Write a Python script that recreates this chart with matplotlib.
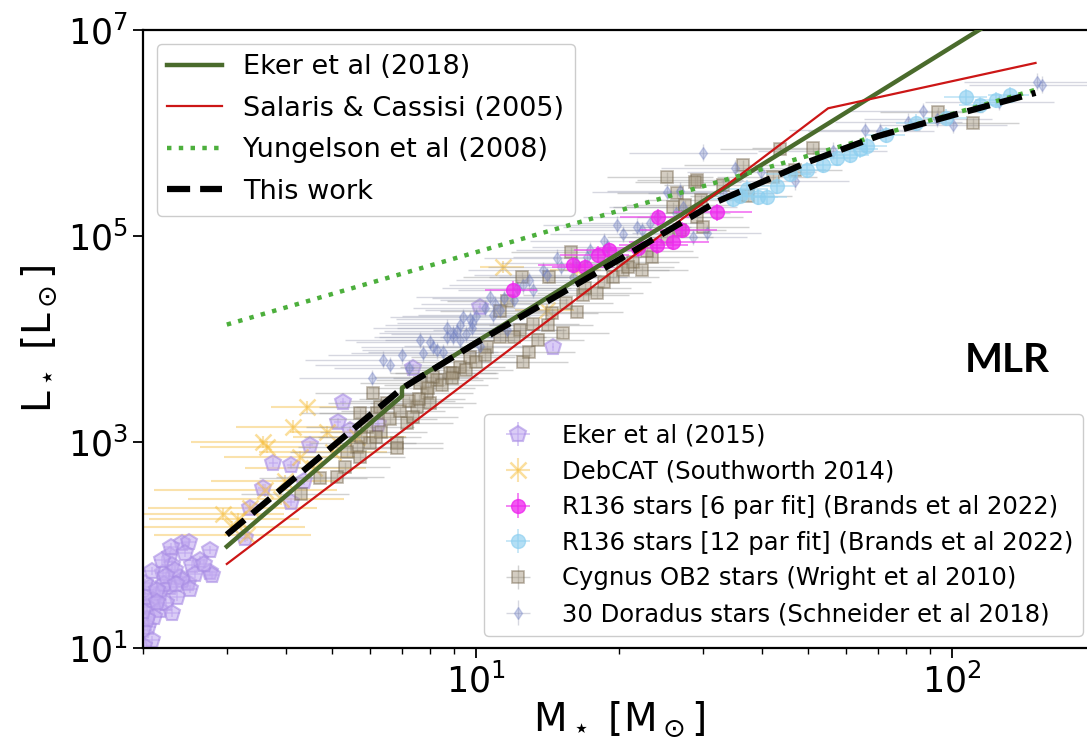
import numpy as np
import matplotlib
matplotlib.use("Agg")
import matplotlib.pyplot as plt
from matplotlib.ticker import FixedLocator, NullLocator, LogLocator, NullFormatter

# ---------------- mass-luminosity relations (M in Msun, log L in Lsun) ----------------
eker18_m = [3, 7, 7, 150]
eker18_logl = [1.986, 3.446, 3.526, 7.34]

salaris05_m = [3, 55, 150]
salaris05_logl = [1.816, 6.24, 6.68]

yungelson08_m = [3, 150]
yungelson08_logl = [4.14, 6.42]

thiswork_m = [3, 7, 10, 20, 32, 50, 70, 100, 150]
thiswork_logl = [2.10, 3.52, 3.96, 4.77, 5.33, 5.72, 5.97, 6.17, 6.39]

# ---------------- observed samples (log M, log L, mass error in Msun) ----------------
eker15_logm = [0.382, 0.398, 0.441, 0.357, 0.420, 0.403, 0.441, 0.447, 0.363, 0.342,
               0.378, 0.395, 0.357, 0.336, 0.372, 0.315, 0.321, 0.309, 0.336, 0.311,
               0.305, 0.350, 0.384, 0.363, 0.305, 0.302, 0.325, 0.345, 0.368, 0.330,
               0.310, 0.320, 0.340, 0.360, 0.390, 0.410, 0.430, 0.300, 0.330, 0.350,
               0.370, 0.400, 0.320, 0.303,
               0.613, 0.651, 0.553, 0.525, 0.515, 0.613, 0.721, 0.710, 0.794, 0.735,
               0.868, 1.008, 1.162, 0.640, 0.575]
eker15_logl = [2.02, 2.03, 1.95, 1.90, 1.85, 1.81, 1.74, 1.71, 1.81, 1.73,
               1.69, 1.63, 1.59, 1.53, 1.50, 1.59, 1.47, 1.40, 1.37, 1.20,
               1.50, 1.44, 1.66, 1.34, 1.63, 1.17, 1.30, 1.62, 1.76, 1.56,
               1.28, 1.75, 1.85, 1.98, 1.92, 1.72, 1.82, 1.36, 1.45, 1.70,
               1.62, 1.57, 1.08, 1.02,
               2.78, 2.97, 2.55, 2.36, 2.07, 2.42, 3.39, 3.19, 3.17, 3.12,
               3.72, 4.31, 3.92, 2.62, 2.80]
eker15_dm = 0.08
eker15_dlogl = 0.04

debcat_logm = [0.645, 0.616, 0.553, 0.561, 0.687, 0.489, 0.557, 0.525, 0.500, 0.520,
               0.660, 0.700, 1.057, 1.149, 1.212, 0.600, 0.750, 0.470, 0.590, 0.630]
debcat_logl = [3.34, 3.15, 3.00, 2.95, 3.10, 2.17, 2.53, 2.36, 2.25, 2.10,
               2.75, 2.90, 4.70, 4.28, 4.67, 2.62, 3.05, 2.30, 2.45, 2.85]
debcat_dm = [0.7, 1.0, 1.05, 1.0, 0.8, 1.3, 1.5, 1.3, 1.1, 1.2,
             1.3, 1.5, 1.2, 2.0, 2.0, 1.2, 1.5, 1.0, 1.4, 1.3]
debcat_dlogl = 0.06

r136a_logm = [1.078, 1.204, 1.229, 1.256, 1.281, 1.340, 1.382, 1.380, 1.414, 1.433, 1.506]
r136a_logl = [4.48, 4.72, 4.70, 4.82, 4.86, 4.88, 5.18, 4.91, 4.94, 5.06, 5.23]
r136a_dm = [1.5, 2.5, 2.5, 3.0, 3.0, 4.0, 4.0, 4.0, 5.0, 5.0, 6.0]
r136a_dlogl = 0.08

r136b_logm = [1.592, 1.613, 1.555, 1.570, 1.632, 1.695, 1.729, 1.758, 1.786, 1.807,
              1.821, 1.863, 1.926, 1.989, 2.031, 2.059, 2.122, 2.094, 1.660, 1.540]
r136b_logl = [5.38, 5.38, 5.39, 5.46, 5.49, 5.64, 5.69, 5.76, 5.79, 5.84,
              5.87, 5.98, 6.10, 6.15, 6.35, 6.27, 6.37, 6.32, 5.60, 5.36]
r136b_dm = [4, 4, 4, 4, 4, 5, 5, 6, 6, 6, 7, 7, 8, 10, 11, 11, 13, 12, 5, 4]
r136b_dlogl = 0.08

cyg_logm = [0.750, 0.777, 0.771, 0.792, 0.813, 0.834, 0.855, 0.876, 0.897, 0.918,
            0.945, 0.966, 0.987, 0.882, 0.785, 0.725, 0.756, 0.834, 0.708, 0.672,
            0.634, 0.756, 0.798, 0.868, 0.903, 0.910, 0.952, 1.023, 1.050, 1.092,
            1.099, 1.113, 1.130, 1.151, 1.183, 1.212, 1.225, 1.254, 1.288, 1.309,
            1.330, 1.349, 1.370, 1.401, 1.429, 1.464, 1.477, 1.422, 1.401, 1.464,
            1.414, 1.097, 1.155, 1.200, 1.065, 1.050, 1.460, 1.561, 1.639, 1.708,
            1.670, 1.624, 1.971, 2.044, 1.571, 1.473,
            0.800, 0.820, 0.840, 0.860, 0.880, 0.900, 0.930, 0.950, 0.980, 1.000,
            0.790, 0.760, 0.730, 1.020, 1.080, 1.120, 1.160, 1.190, 1.230, 1.270,
            1.320, 1.360, 1.440, 1.520]
cyg_logl = [2.95, 2.99, 3.15, 3.28, 3.38, 2.99, 3.18, 3.34, 3.48, 3.60,
            3.67, 3.73, 3.83, 3.57, 3.48, 2.76, 2.85, 2.94, 2.66, 2.65,
            2.50, 3.28, 3.34, 3.24, 3.38, 3.63, 3.67, 3.92, 4.02, 4.09,
            3.78, 3.87, 3.99, 4.14, 4.06, 4.26, 4.43, 4.45, 4.60, 4.67,
            4.75, 4.67, 4.80, 4.99, 5.06, 5.18, 5.09, 5.42, 5.57, 5.54,
            5.28, 4.60, 4.60, 4.84, 4.37, 4.27, 5.52, 5.69, 5.84, 5.85,
            5.64, 5.57, 6.20, 6.10, 5.39, 5.35,
            3.10, 3.22, 3.30, 3.40, 3.42, 3.52, 3.55, 3.62, 3.70, 3.78,
            3.05, 3.05, 2.90, 3.84, 4.02, 4.15, 4.25, 4.35, 4.50, 4.55,
            4.70, 4.85, 5.30, 5.50]
cyg_dm = [1.4, 1.5, 1.5, 1.5, 1.6, 1.7, 1.8, 1.9, 2.0, 2.1,
          2.2, 2.3, 2.4, 1.9, 1.5, 1.3, 1.4, 1.7, 1.3, 1.2,
          1.1, 1.4, 1.6, 1.8, 2.0, 2.0, 2.2, 2.6, 2.8, 3.1,
          3.1, 3.2, 3.4, 3.5, 3.8, 4.1, 4.2, 4.5, 4.9, 5.1,
          5.3, 5.6, 5.9, 6.3, 6.7, 7.3, 7.5, 6.6, 6.3, 7.3,
          6.5, 3.1, 3.6, 4.0, 2.9, 2.8, 7.2, 9.0, 11.0, 13.0,
          12.0, 10.0, 23.0, 28.0, 9.0, 7.0,
          1.6, 1.7, 1.7, 1.8, 1.9, 2.0, 2.1, 2.2, 2.4, 2.5,
          1.5, 1.4, 1.3, 2.6, 3.0, 3.3, 3.6, 3.9, 4.2, 4.7,
          5.2, 5.7, 6.9, 8.3]
cyg_dlogl = 0.05

dor_logm = [0.805, 0.820, 0.845, 0.882, 0.903, 0.939, 0.952, 0.966, 0.987, 0.993,
            0.782, 0.918, 0.931, 0.973, 0.993, 1.029, 1.050, 1.086, 1.113, 1.141,
            1.170, 1.204, 1.233, 1.275, 1.296, 1.338, 1.366, 1.401, 1.435, 1.456,
            1.485, 0.952, 1.008, 1.065, 0.966, 1.036, 1.477, 1.544, 1.519, 1.670,
            1.817, 1.939, 1.908, 2.002, 2.180, 2.189, 1.429,
            0.860, 0.890, 0.910, 0.940, 0.960, 0.980, 1.000, 1.020, 1.040, 1.060,
            1.080, 1.100, 1.120, 1.150, 1.180, 1.210, 1.240, 1.270, 1.310, 1.350,
            1.380, 1.420, 1.600, 1.750, 1.850, 1.970, 2.100]
dor_logl = [3.80, 3.75, 3.84, 3.99, 3.97, 4.11, 4.02, 4.14, 4.19, 4.16,
            3.62, 3.89, 3.87, 4.21, 4.11, 4.41, 4.28, 4.50, 4.57, 4.67,
            4.79, 4.60, 4.80, 4.89, 5.11, 5.09, 5.13, 5.43, 5.28, 4.99,
            5.03, 4.06, 3.93, 4.09, 3.99, 4.23, 5.81, 5.66, 5.42, 5.53,
            6.03, 6.21, 6.11, 6.08, 6.50, 6.47, 5.44,
            3.72, 3.86, 3.92, 4.02, 4.08, 4.05, 4.22, 4.30, 4.34, 4.40,
            4.38, 4.52, 4.48, 4.62, 4.70, 4.74, 4.86, 4.95, 5.02, 5.06,
            5.18, 5.22, 5.62, 5.83, 6.02, 6.14, 6.30]
dor_dm = [2.0, 2.0, 2.1, 2.3, 2.4, 2.6, 2.7, 2.8, 2.9, 3.0,
          1.8, 2.5, 2.6, 2.8, 3.0, 3.2, 3.4, 3.7, 3.9, 4.2,
          4.4, 4.8, 5.1, 5.7, 5.9, 6.5, 7.0, 7.6, 8.2, 8.6,
          9.2, 2.7, 3.1, 3.5, 2.8, 3.3, 9.0, 10.5, 10.0, 14.0,
          20.0, 26.0, 24.0, 30.0, 45.0, 46.0, 8.0,
          2.2, 2.3, 2.4, 2.6, 2.7, 2.9, 3.0, 3.1, 3.3, 3.4,
          3.6, 3.8, 4.0, 4.2, 4.5, 4.9, 5.2, 5.6, 6.1, 6.7,
          7.2, 7.9, 12.0, 17.0, 21.0, 28.0, 38.0]
dor_dlogl = 0.08

# ---------------- figure ----------------
W, H = 1087, 743
fig = plt.figure(figsize=(W / 100, H / 100), dpi=100)
ax = fig.add_axes([143 / W, 95 / H, 952 / W, 618 / H])
ax.set_xscale("log")
ax.set_yscale("log")


def draw_sample(logm, logl, dm, dlogl, label, fmt, color, ecolor, ms, alpha, mec=None,
                mew=1.0, elw=1.2, z=2):
    m = 10 ** np.asarray(logm)
    lum = 10 ** np.asarray(logl)
    dm = np.broadcast_to(np.asarray(dm, dtype=float), m.shape)
    xerr = np.vstack([np.minimum(dm, 0.95 * m), dm])
    yerr = np.vstack([lum * (1 - 10 ** -dlogl), lum * (10 ** dlogl - 1)])
    return ax.errorbar(m, lum, xerr=xerr, yerr=yerr, fmt=fmt, color=color, ecolor=ecolor,
                       ms=ms, mec=mec if mec else color, mew=mew, elinewidth=elw,
                       alpha=alpha, label=label, zorder=z, capsize=0)


h_eker15 = draw_sample(eker15_logm, eker15_logl, eker15_dm, eker15_dlogl, "Eker et al (2015)",
                       "p", "#c2aaf0", "#b79cec", 12, 0.6, mec="#a88ce4", mew=1.5, z=2)
h_debcat = draw_sample(debcat_logm, debcat_logl, debcat_dm, debcat_dlogl, "DebCAT (Southworth 2014)",
                       "x", "#f7be3a", "#f7c65a", 11, 0.5, mew=1.8, elw=1.5, z=2)
h_cyg = draw_sample(cyg_logm, cyg_logl, cyg_dm, cyg_dlogl, "Cygnus OB2 stars (Wright et al 2010)",
                    "s", "#a09278", "#9a9a9a", 9, 0.45, mec="#6e5f45", mew=1.2, elw=1.0, z=3)
h_dor = draw_sample(dor_logm, dor_logl, dor_dm, dor_dlogl, "30 Doradus stars (Schneider et al 2018)",
                    "d", "#6f7fc4", "#8a8fa8", 6, 0.35, mew=1.0, elw=1.0, z=3)
h_r136a = draw_sample(r136a_logm, r136a_logl, r136a_dm, r136a_dlogl,
                      "R136 stars [6 par fit] (Brands et al 2022)",
                      "o", "#ee22ee", "#ee44ee", 10, 0.75, mew=1.0, elw=1.2, z=4)
h_r136b = draw_sample(r136b_logm, r136b_logl, r136b_dm, r136b_dlogl,
                      "R136 stars [12 par fit] (Brands et al 2022)",
                      "o", "#8ccff0", "#9fd6f2", 10, 0.65, mew=1.0, elw=1.2, z=4)

l_eker18, = ax.plot(eker18_m, 10 ** np.asarray(eker18_logl), color="#4a6b2c", lw=3.2,
                    label="Eker et al (2018)", zorder=6)
l_sal, = ax.plot(salaris05_m, 10 ** np.asarray(salaris05_logl), color="#cc1616", lw=1.6,
                 label="Salaris & Cassisi (2005)", zorder=6)
l_yung, = ax.plot(yungelson08_m, 10 ** np.asarray(yungelson08_logl), color="#4caf3c", lw=3.2,
                  ls=":", label="Yungelson et al (2008)", zorder=7)
l_this, = ax.plot(thiswork_m, 10 ** np.asarray(thiswork_logl), color="black", lw=4.5,
                  ls="--", label="This work", zorder=8)

ax.set_xlim(2, 200)
ax.set_ylim(10, 1e7)

ax.yaxis.set_major_locator(FixedLocator([1e1, 1e3, 1e5, 1e7]))
ax.yaxis.set_minor_locator(NullLocator())
ax.xaxis.set_major_locator(LogLocator(base=10))
ax.xaxis.set_minor_locator(LogLocator(base=10, subs=np.arange(2, 10)))
ax.xaxis.set_minor_formatter(NullFormatter())

ax.tick_params(axis="both", which="major", labelsize=25, length=7, width=1.3, pad=4)
ax.tick_params(axis="x", which="minor", length=4, width=1.0)
for s in ax.spines.values():
    s.set_linewidth(1.6)

ax.set_xlabel(r"M$_\star$ [M$_\odot$]", fontsize=28, labelpad=0)
ax.set_ylabel(r"L$_\star$ [L$_\odot$]", fontsize=28, labelpad=6)

leg1 = ax.legend(handles=[l_eker18, l_sal, l_yung, l_this], loc="upper left",
                 fontsize=19.5, labelspacing=0.57, framealpha=1, edgecolor="#cccccc")
ax.add_artist(leg1)
ax.legend(handles=[h_eker15, h_debcat, h_r136a, h_r136b, h_cyg, h_dor], loc="lower right",
          fontsize=17.5, labelspacing=0.48, framealpha=1, edgecolor="#cccccc")

ax.text(0.9076, 0.466, "MLR", transform=ax.transAxes, ha="center", va="center",
        fontsize=29, fontweight="bold", family="Lato")

fig.savefig("out.png", dpi=100)
